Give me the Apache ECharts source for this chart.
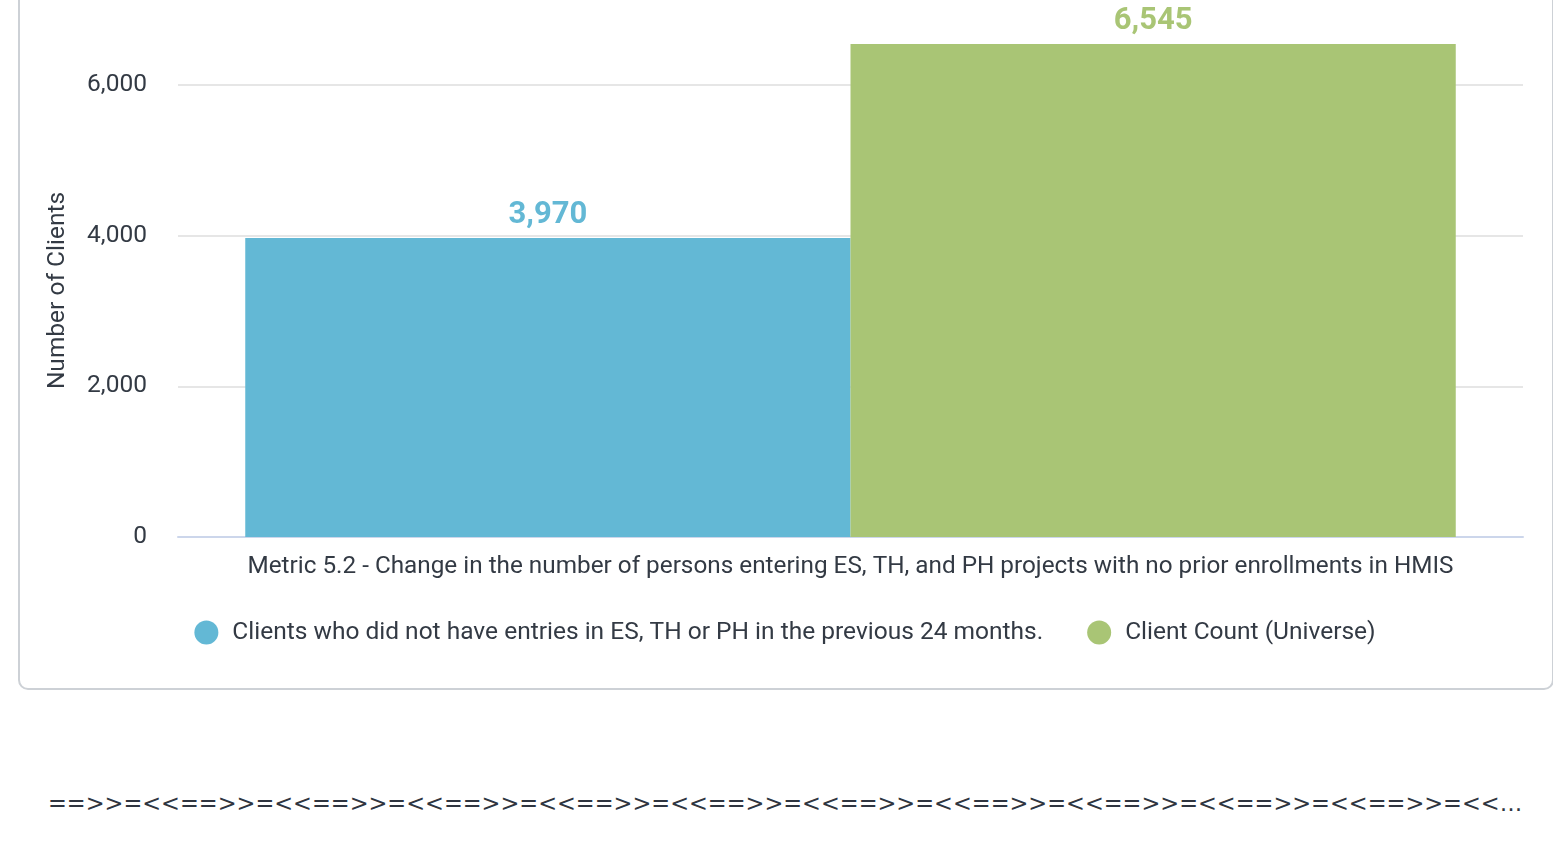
<!DOCTYPE html>
<html>
<head>
<meta charset="utf-8">
<script src="https://cdn.jsdelivr.net/npm/echarts@6/dist/echarts.min.js"></script>
<style>
  html, body { margin: 0; padding: 0; background: #fff; font-family: Roboto, sans-serif; }
  body { width: 1553px; height: 865px; position: relative; overflow: hidden; }
  .card {
    position: absolute; left: 18px; top: -40px; width: 1532px; height: 726px;
    border: 2px solid #cdd1d6; border-radius: 10px; background: #fff;
  }
  #chart { position: absolute; left: 19px; top: 0; width: 1532px; height: 684px; }
  .sep {
    position: absolute; left: 48px; top: 788px; width: 1478px;
    font-family: "DejaVu Sans", sans-serif;
    font-size: 22.5px; line-height: 30px; color: #2f3540;
    white-space: nowrap; overflow: hidden; text-overflow: ellipsis;
  }
</style>
</head>
<body>
<div class="card"></div>
<div id="chart"></div>
<div class="sep">==&gt;&gt;=&lt;&lt;==&gt;&gt;=&lt;&lt;==&gt;&gt;=&lt;&lt;==&gt;&gt;=&lt;&lt;==&gt;&gt;=&lt;&lt;==&gt;&gt;=&lt;&lt;==&gt;&gt;=&lt;&lt;==&gt;&gt;=&lt;&lt;==&gt;&gt;=&lt;&lt;==&gt;&gt;=&lt;&lt;==&gt;&gt;=&lt;&lt;==&gt;&gt;=&lt;&lt;==&gt;&gt;=&lt;&lt;==&gt;&gt;=&lt;&lt;==&gt;&gt;=&lt;&lt;==&gt;&gt;=&lt;&lt;</div>
<script>
const categories = ['Metric 5.2 - Change in the number of persons entering ES, TH, and PH projects with no prior enrollments in HMIS'];
const seriesNames = ['Clients who did not have entries in ES, TH or PH in the previous 24 months.', 'Client Count (Universe)'];
const noPriorEntries = [3970];
const clientCount = [6545];
const colors = ['#63b8d5', '#a9c575'];

function fmt(v){
  return Number(v).toLocaleString('en-US');
}

function creatChart(){
  const chart = echarts.init(document.getElementById('chart'));
  const textColor = '#333a44';
  const chart_option = {
    animation: false,
    textStyle: { fontFamily: 'Roboto' },
    grid: {
      left: 159, // 畫面編距
      right: 28,
      top: 44,
      bottom: 147
    },
    legend: {
      bottom: 34,
      left: 'center',
      icon: 'circle',
      itemWidth: 24,
      itemHeight: 24,
      itemGap: 44,
      textStyle: { fontSize: 24.5, color: textColor, padding: [0, 0, 0, 9] },
      data: seriesNames
    },
    xAxis: {
      type: 'category',
      data: categories,
      axisTick: { show: false },
      axisLine: { lineStyle: { color: '#ccd6eb', width: 2 } },
      axisLabel: { fontSize: 24.3, color: textColor, margin: 18 }
    },
    yAxis: {
      type: 'value',
      min: 0,
      max: 6545,
      interval: 2000,
      name: 'Number of Clients',
      nameLocation: 'middle',
      nameGap: 108,
      nameTextStyle: { fontSize: 24.5, color: textColor },
      axisLabel: {
        fontSize: 24.5, color: textColor, margin: 31,
        showMaxLabel: false,
        formatter: fmt
      },
      splitLine: { showMaxLine: false, lineStyle: { color: '#e6e6e6', width: 2 } }
    },
    series: [
      {
        name: seriesNames[0],
        type: 'bar',
        data: noPriorEntries,
        barWidth: '45%',
        barGap: '0%',
        itemStyle: { color: colors[0] },
        label: {
          show: true, position: 'top', distance: 7,
          fontSize: 31, fontWeight: 'bold', color: colors[0],
          formatter: p => fmt(p.value)
        }
      },
      {
        name: seriesNames[1],
        type: 'bar',
        data: clientCount,
        barWidth: '45%',
        barGap: '0%',
        itemStyle: { color: colors[1] },
        label: {
          show: true, position: 'top', distance: 7,
          fontSize: 31, fontWeight: 'bold', color: colors[1],
          formatter: p => fmt(p.value)
        }
      }
    ]
  };
  chart.setOption(chart_option);
}
window.onload = creatChart;
</script>
</body>
</html>
